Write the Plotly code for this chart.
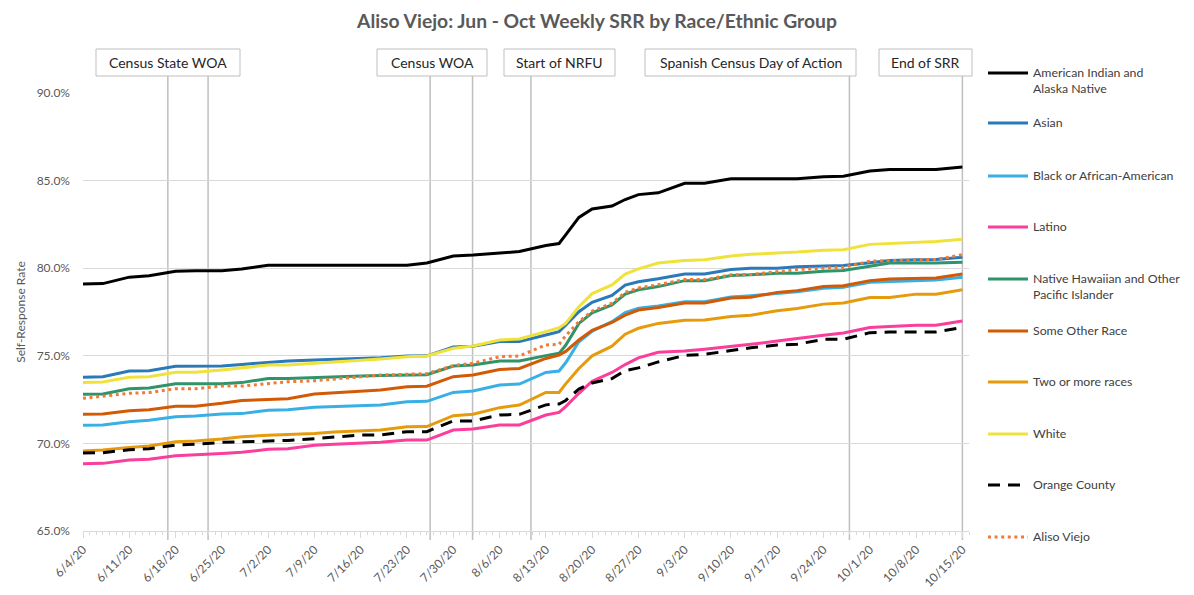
import plotly.graph_objects as go

# ---------------- data ----------------
dates = ['2020-06-04', '2020-06-07', '2020-06-11', '2020-06-14', '2020-06-18', '2020-06-21',
         '2020-06-25', '2020-06-28', '2020-07-02', '2020-07-05', '2020-07-09', '2020-07-12',
         '2020-07-16', '2020-07-19', '2020-07-23', '2020-07-26', '2020-07-30', '2020-08-02',
         '2020-08-06', '2020-08-09', '2020-08-13', '2020-08-15', '2020-08-16', '2020-08-18',
         '2020-08-20', '2020-08-23', '2020-08-25', '2020-08-27', '2020-08-30', '2020-09-03',
         '2020-09-06', '2020-09-10', '2020-09-13', '2020-09-17', '2020-09-20', '2020-09-24',
         '2020-09-27', '2020-10-01', '2020-10-04', '2020-10-08', '2020-10-11', '2020-10-15']

aian = [79.10, 79.12, 79.49, 79.57, 79.82, 79.86, 79.86, 79.95, 80.17, 80.17, 80.17, 80.17,
        80.17, 80.17, 80.17, 80.30, 80.70, 80.75, 80.88, 80.95, 81.30, 81.41, 81.90, 82.90,
        83.38, 83.55, 83.92, 84.20, 84.30, 84.85, 84.85, 85.10, 85.10, 85.10, 85.10, 85.22,
        85.25, 85.55, 85.63, 85.63, 85.63, 85.78]
asian = [73.77, 73.80, 74.13, 74.15, 74.40, 74.42, 74.42, 74.51, 74.63, 74.70, 74.76, 74.80,
         74.85, 74.89, 74.99, 75.00, 75.50, 75.54, 75.81, 75.81, 76.19, 76.38, 76.75, 77.52,
         78.05, 78.45, 79.04, 79.23, 79.40, 79.67, 79.67, 79.92, 80.00, 80.00, 80.08, 80.11,
         80.15, 80.31, 80.44, 80.48, 80.50, 80.63]
black_aa = [71.03, 71.05, 71.24, 71.32, 71.52, 71.56, 71.68, 71.70, 71.89, 71.92, 72.06, 72.11,
            72.15, 72.19, 72.38, 72.40, 72.91, 72.99, 73.33, 73.39, 74.05, 74.13, 74.60, 75.80,
            76.40, 76.95, 77.47, 77.72, 77.85, 78.08, 78.08, 78.35, 78.43, 78.56, 78.66, 78.86,
            78.91, 79.20, 79.25, 79.30, 79.33, 79.48]
latino = [68.84, 68.86, 69.05, 69.10, 69.30, 69.34, 69.43, 69.49, 69.66, 69.70, 69.89, 69.95,
          70.00, 70.06, 70.19, 70.19, 70.76, 70.82, 71.05, 71.05, 71.62, 71.77, 72.10, 72.86,
          73.55, 74.05, 74.50, 74.88, 75.20, 75.27, 75.37, 75.56, 75.66, 75.84, 76.00, 76.17,
          76.30, 76.61, 76.67, 76.74, 76.74, 76.99]
nhpi = [72.80, 72.82, 73.12, 73.16, 73.41, 73.41, 73.41, 73.47, 73.71, 73.71, 73.77, 73.83,
        73.85, 73.87, 73.90, 73.92, 74.42, 74.47, 74.70, 74.70, 75.01, 75.14, 75.60, 76.85,
        77.45, 77.90, 78.52, 78.77, 78.95, 79.29, 79.29, 79.58, 79.62, 79.71, 79.71, 79.83,
        79.87, 80.10, 80.29, 80.29, 80.29, 80.34]
other = [71.66, 71.68, 71.87, 71.92, 72.12, 72.12, 72.29, 72.45, 72.51, 72.55, 72.82, 72.88,
         72.95, 73.05, 73.24, 73.26, 73.81, 73.90, 74.22, 74.28, 74.85, 75.04, 75.25, 75.90,
         76.45, 76.90, 77.32, 77.61, 77.76, 78.01, 78.01, 78.30, 78.34, 78.62, 78.72, 78.95,
         79.00, 79.29, 79.39, 79.44, 79.44, 79.67]
two_more = [69.57, 69.62, 69.77, 69.85, 70.10, 70.14, 70.25, 70.38, 70.46, 70.50, 70.57, 70.65,
            70.73, 70.76, 70.95, 70.96, 71.58, 71.66, 72.04, 72.19, 72.91, 72.91, 73.40, 74.28,
            75.00, 75.55, 76.23, 76.57, 76.85, 77.03, 77.05, 77.24, 77.32, 77.57, 77.70, 77.95,
            78.01, 78.33, 78.33, 78.52, 78.52, 78.77]
white = [73.48, 73.50, 73.77, 73.80, 74.06, 74.06, 74.19, 74.32, 74.47, 74.47, 74.57, 74.63,
         74.76, 74.82, 74.95, 74.99, 75.43, 75.56, 75.90, 75.96, 76.38, 76.60, 76.85, 77.80,
         78.55, 79.05, 79.67, 79.96, 80.30, 80.44, 80.48, 80.69, 80.79, 80.86, 80.92, 81.03,
         81.05, 81.36, 81.40, 81.49, 81.53, 81.65]
orange_county = [69.45, 69.47, 69.64, 69.70, 69.90, 69.95, 70.06, 70.10, 70.17, 70.17, 70.27, 70.35,
                 70.48, 70.48, 70.67, 70.67, 71.28, 71.28, 71.62, 71.66, 72.20, 72.25, 72.45, 73.10,
                 73.45, 73.70, 74.15, 74.31, 74.65, 75.02, 75.08, 75.30, 75.46, 75.62, 75.66, 75.94,
                 75.94, 76.32, 76.36, 76.36, 76.36, 76.61]
aliso_viejo = [72.57, 72.70, 72.86, 72.90, 73.12, 73.12, 73.27, 73.27, 73.43, 73.52, 73.58, 73.66,
               73.80, 73.90, 73.94, 73.98, 74.44, 74.57, 74.95, 74.99, 75.62, 75.65, 76.15, 76.95,
               77.55, 78.00, 78.62, 78.87, 79.06, 79.35, 79.35, 79.62, 79.64, 79.81, 79.92, 80.00,
               80.05, 80.40, 80.44, 80.50, 80.50, 80.77]

series_names = ["American Indian and Alaska Native", "Asian", "Black or African-American", "Latino",
                "Native Hawaiian and Other Pacific Islander", "Some Other Race", "Two or more races",
                "White", "Orange County", "Aliso Viejo"]
legend_labels = ["American Indian and<br>Alaska Native", "Asian", "Black or African-American", "Latino",
                 "Native Hawaiian and Other<br>Pacific Islander", "Some Other Race", "Two or more races",
                 "White", "Orange County", "Aliso Viejo"]
series_values = [aian, asian, black_aa, latino, nhpi, other, two_more, white, orange_county, aliso_viejo]

event_labels = ["Census State WOA", "Census WOA", "Start of NRFU", "Spanish Census Day of Action", "End of SRR"]
event_dates = ['2020-06-16 20:00', '2020-06-22 22:00', '2020-07-26 12:00', '2020-08-01 22:00',
               '2020-08-10 18:00', '2020-09-27 22:00', '2020-10-15']

y_ticks = [65, 70, 75, 80, 85, 90]
y_tick_text = [f"{v:.1f}%" for v in y_ticks]

# ---------------- styles ----------------
colors = ['#000000', '#2a79b9', '#38b0e4', '#fb3d9c', '#2f946a', '#d35a05', '#e69b0c', '#efe23b',
          '#000000', '#ef7b36']
dashes = ['solid'] * 8 + ['12px,8px', '3px,3.6px']
FONT = 'Lato'

# page has an 8px body margin: the figure is shrunk by 8px so it fits the window
OFF = 8
W, H = 1194 - OFF, 595 - OFF
PLOT_L, PLOT_R, PLOT_T, PLOT_B = 83, 969, 93, 531          # page pixels of the plot area
ML, MT = PLOT_L - OFF, PLOT_T - OFF
PW, PH = PLOT_R - PLOT_L, PLOT_B - PLOT_T
MR, MB = W - ML - PW, H - MT - PH


def xp(px):
    return (px - PLOT_L) / PW


def yp(py):
    return (PLOT_B - py) / PH


fig = go.Figure()
for name, vals, c, d in zip(series_names, series_values, colors, dashes):
    assert len(vals) == len(dates)
    fig.add_trace(go.Scatter(x=dates, y=vals, mode='lines', name=name, showlegend=False,
                             line=dict(color=c, width=3, dash=d)))

shapes = []
annotations = []

# event vertical lines
for dt in event_dates:
    shapes.append(dict(type='line', xref='x', yref='paper', x0=dt, x1=dt,
                       y0=yp(540), y1=yp(76), line=dict(color='#bfbfbf', width=1.5), layer='below'))

# event boxes
boxes = [(96, 240), (377, 487), (504, 615), (645, 856), (879, 972)]
for lbl, (x0, x1) in zip(event_labels, boxes):
    shapes.append(dict(type='rect', xref='paper', yref='paper', x0=xp(x0), x1=xp(x1),
                       y0=yp(76), y1=yp(49), line=dict(color='#bfbfbf', width=1),
                       fillcolor='white', layer='above'))
    annotations.append(dict(text=lbl, xref='paper', yref='paper', x=xp((x0 + x1) / 2), y=yp(63),
                            xanchor='center', yanchor='middle', showarrow=False,
                            font=dict(size=14, color='#262626', family=FONT)))

# legend (drawn by hand to match the spacing of the original)
leg_y = [73, 123, 176, 227, 279, 331, 382, 434, 485, 537]
for lbl, c, d, y in zip(legend_labels, colors, dashes, leg_y):
    shapes.append(dict(type='line', xref='paper', yref='paper', x0=xp(988), x1=xp(1028),
                       y0=yp(y), y1=yp(y), line=dict(color=c, width=3, dash=d)))
    annotations.append(dict(text=lbl, xref='paper', yref='paper', x=xp(1031), y=yp(y - 10),
                            xanchor='left', yanchor='top', align='left', showarrow=False,
                            font=dict(size=12.3, color='#404040', family=FONT)))

fig.update_layout(
    width=W, height=H,
    margin=dict(l=ML, r=MR, t=MT, b=MB, autoexpand=False),
    paper_bgcolor='white', plot_bgcolor='white',
    font=dict(family=FONT, size=12, color='#595959'),
    title=dict(text='<b>Aliso Viejo: Jun - Oct Weekly SRR by Race/Ethnic Group</b>',
               x=0.5 - OFF / 2 / W, xref='container', xanchor='center',
               y=1 - (21 - OFF) / H, yref='container',
               yanchor='middle', font=dict(size=19.3, color='#595959', family=FONT)),
    xaxis=dict(type='date', range=['2020-06-04', '2020-10-16'], tick0='2020-06-04',
               dtick=7 * 86400000, tickformat='%-m/%-d/%y', tickangle=-45,
               ticks='outside', ticklen=6, tickcolor='#d9d9d9', tickwidth=1,
               minor=dict(dtick=86400000, ticks='outside', ticklen=3, tickcolor='#d9d9d9'),
               showline=True, linecolor='#d9d9d9', linewidth=1, showgrid=False,
               zeroline=False, tickfont=dict(size=12, color='#595959'), automargin=False),
    yaxis=dict(range=[65, 90], tickmode='array', tickvals=y_ticks, ticktext=y_tick_text,
               showgrid=True, gridcolor='#d9d9d9', gridwidth=1, zeroline=False,
               showline=False, ticks='', ticklabelstandoff=12,
               tickfont=dict(size=12, color='#595959'), automargin=False,
               title=dict(text='Self-Response Rate', standoff=8,
                          font=dict(size=12, color='#595959'))),
    shapes=shapes, annotations=annotations,
)

fig.write_html("out.html")
